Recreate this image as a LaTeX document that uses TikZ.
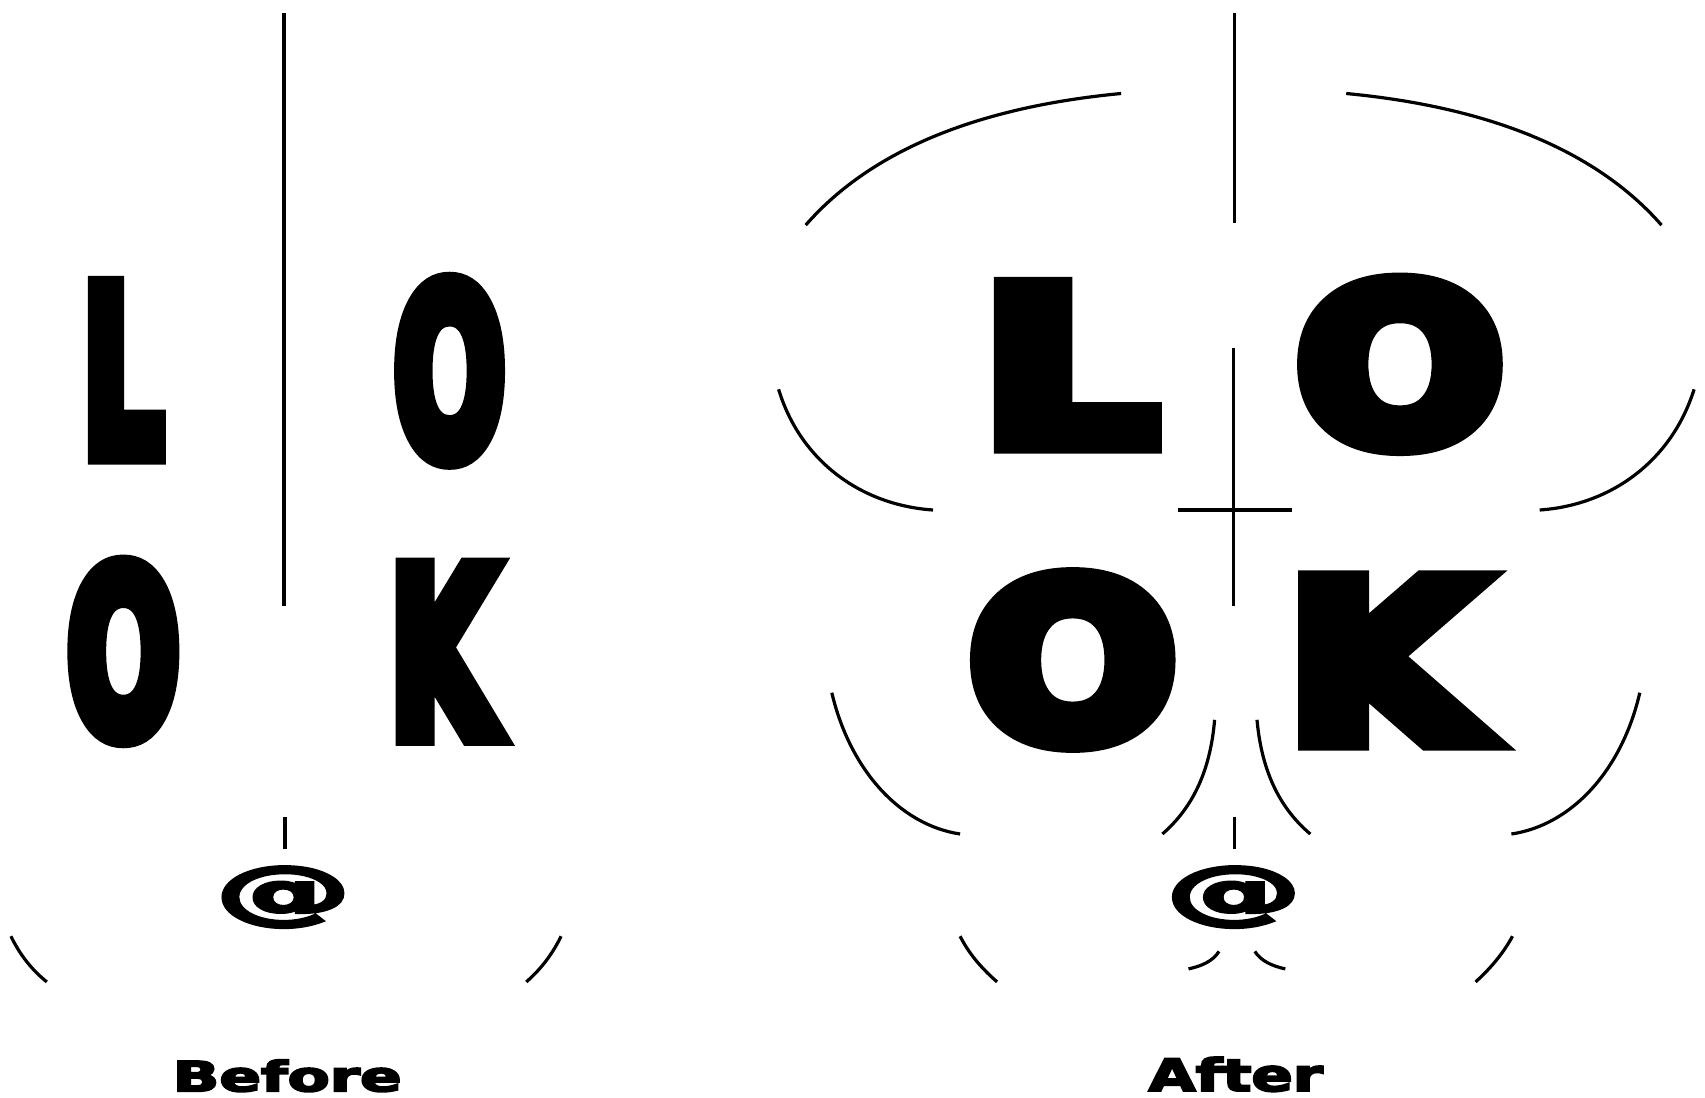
\documentclass[tikz,border=0pt]{standalone}
\usepackage{fontspec}
\setmainfont{DejaVu Sans}
\newfontfamily\heavyfont{DejaVu Sans Bold}[RawFeature={embolden=10}]
\newfontfamily\boldfont{DejaVu Sans Bold}[RawFeature={embolden=4}]
\usepackage{graphicx}
\tikzset{
  glyph/.style ={inner sep=0pt, outer sep=0pt, font=\heavyfont},
  label/.style ={inner sep=0pt, outer sep=0pt, font=\boldfont},
  rule/.style  ={line width=2pt},
  thinrule/.style={line width=1.6pt},
  bow/.style   ={line width=1.6pt}
}
\newlength{\unitpx}
\setlength{\unitpx}{0.5pt}
\newcommand{\fitpx}[3]{\resizebox*{#1\unitpx}{#2\unitpx}{#3}}

\begin{document}
\begin{tikzpicture}[x=0.5pt, y=-0.5pt]
  \useasboundingbox (0,0) rectangle (1705,1098);

  % before
  \node[glyph](bL)  at (122.8,370.3) {\fitpx{80.5}{166}{L}};
  \node[glyph](bO1) at (449.6,370.8) {\fitpx{110.9}{174.9}{O}};
  \node[glyph](bO2) at (123.4,651.4) {\fitpx{112}{171}{O}};
  \node[glyph](bK)  at (442.3,651.8) {\fitpx{104.4}{165.4}{K}};
  \node[label](bat) at (283.3,897.1) {\fitpx{136.1}{61.2}{@}};
  \node[label](btitle) at (287.2,1075.8) {\fitpx{228.9}{32.2}{Before}};

  \draw[rule](283.8,13)--(283.8,605.7);
  \draw[rule](284.9,816.6)--(284.9,849.2);
  \draw[bow](10.9,936.2) .. controls (20,955) and (32,970) .. (46.8,981.9);
  \draw[bow](561.1,936.2) .. controls (552,955) and (540,970) .. (526.3,981.9);

  % after
  \node[glyph](aL)  at (1069.2,365.3) {\fitpx{173}{155.3}{L}};
  \node[glyph](aO1) at (1400,364.3)   {\fitpx{205.6}{162}{O}};
  \node[glyph](aO2) at (1072.8,660)   {\fitpx{205.5}{164}{O}};
  \node[glyph](aK)  at (1383.3,660.5) {\fitpx{190.7}{158.3}{K}};
  \node[label](aat) at (1233.7,897.1) {\fitpx{136.1}{61.2}{@}};
  \node[label](atitle) at (1235.7,1074.4) {\fitpx{174.4}{34.6}{After}};

  \draw[thinrule](1234.2,13)--(1234.2,222.9);
  \draw[thinrule](1233.1,348)--(1233.1,605.7);
  \draw[thinrule](1177.6,510)--(1291.8,510);
  \draw[thinrule](1234.2,816.6)--(1234.2,849.2);

  \draw[bow](805.7,225.1) .. controls (880,140) and (1000,105) .. (1121.1,93.5);
  \draw[bow](1661.5,225.1) .. controls (1587,140) and (1467,105) .. (1346.2,93.5);
  \draw[bow](778.6,389.3) .. controls (800,460) and (860,505) .. (933,510);
  \draw[bow](1694.1,389.3) .. controls (1672,460) and (1612,505) .. (1539.7,510);
  \draw[bow](831.8,692.7) .. controls (850,770) and (900,825) .. (960.1,834);
  \draw[bow](1639.8,692.7) .. controls (1622,770) and (1572,825) .. (1511.4,834);
  \draw[bow](1214.6,719.8) .. controls (1210,775) and (1190,810) .. (1162.4,834);
  \draw[bow](1257,719.8) .. controls (1262,775) and (1282,810) .. (1310.3,834);
  \draw[bow](960.1,936.2) .. controls (968,952) and (980,967) .. (997.1,981.9);
  \draw[bow](1512.5,936.2) .. controls (1504,952) and (1492,967) .. (1475.6,981.9);
  \draw[bow](1219,951.4) .. controls (1213,961) and (1202,966) .. (1188.5,968.9);
  \draw[bow](1254.8,951.4) .. controls (1261,961) and (1272,966) .. (1285.3,968.9);
\end{tikzpicture}
\end{document}
